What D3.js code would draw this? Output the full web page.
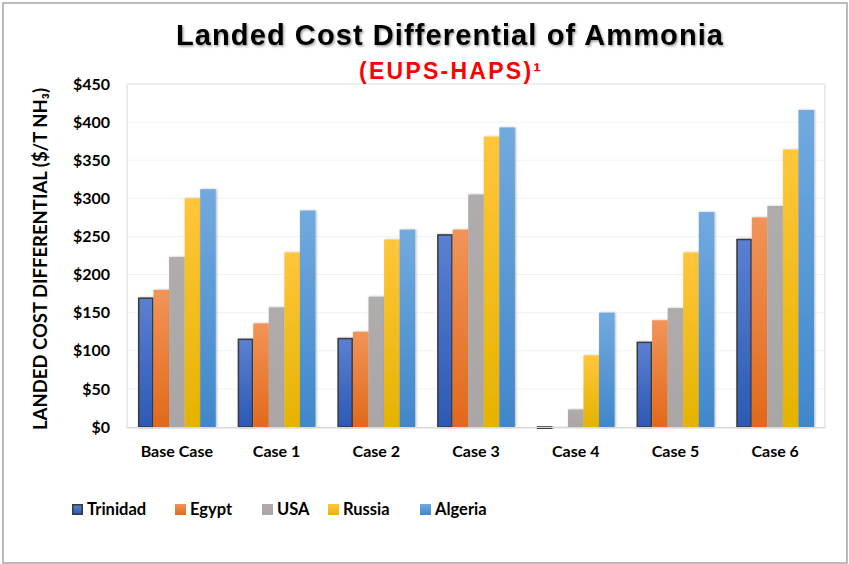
<!DOCTYPE html>
<html><head><meta charset="utf-8">
<script src="https://cdn.jsdelivr.net/npm/d3@7"></script>
<style>
html,body{margin:0;padding:0;background:#fff;}
svg{display:block;}
</style></head>
<body>
<svg id="c" width="849" height="564"></svg>
<script>
const categories = ["Base Case","Case 1","Case 2","Case 3","Case 4","Case 5","Case 6"];
const seriesNames = ["Trinidad","Egypt","USA","Russia","Algeria"];
const trinidad = [169, 115, 116, 252, -2, 111, 246];
const egypt    = [180, 136, 125, 259, -0.5, 140, 275];
const usa      = [223, 157, 171, 305, 23, 156, 290];
const russia   = [300, 229, 246, 381, 94, 229, 364];
const algeria  = [312, 284, 259, 393, 150, 282, 416];
const yTicks = [0,50,100,150,200,250,300,350,400,450];
const title = "Landed Cost Differential of Ammonia";
const subtitle = "(EUPS-HAPS)\u00B9";
const yTitle = "LANDED COST DIFFERENTIAL ($/T NH\u2083)";

(function(){
const seriesValues = [trinidad, egypt, usa, russia, algeria];
const colors = [
  {top:"#5b80d2", bot:"#2c59b5", stroke:"#3a3a3a"},
  {top:"#f29458", bot:"#e2691a", stroke:null},
  {top:"#b0acac", bot:"#aaa6a6", stroke:null},
  {top:"#ffc63c", bot:"#e5b300", stroke:null},
  {top:"#72aadf", bot:"#4087cb", stroke:null}
];

const svg = d3.select("#c");
const defs = svg.append("defs");
colors.forEach((c,i)=>{
  const g = defs.append("linearGradient").attr("id","g"+i).attr("x1",0).attr("y1",0).attr("x2",0).attr("y2",1);
  g.append("stop").attr("offset","0%").attr("stop-color",c.top);
  g.append("stop").attr("offset","100%").attr("stop-color",c.bot);
});
const sh = defs.append("filter").attr("id","shadow").attr("x","-20%").attr("y","-20%").attr("width","140%").attr("height","140%");
sh.append("feDropShadow").attr("dx",1.2).attr("dy",1.5).attr("stdDeviation",0.9).attr("flood-color","#000").attr("flood-opacity",0.4);
const bsh = defs.append("filter").attr("id","bshadow").attr("x","-20%").attr("y","-5%").attr("width","150%").attr("height","110%");
bsh.append("feDropShadow").attr("dx",1).attr("dy",0).attr("stdDeviation",0.8).attr("flood-color","#000").attr("flood-opacity",0.3);

// outer border
svg.append("rect").attr("x",3).attr("y",3).attr("width",844).attr("height",560)
  .attr("fill","none").attr("stroke","#a6a6a6").attr("stroke-width",1.5);

const pL=127, pR=825, pT=84, pB=427;
const x = d3.scaleBand().domain(categories).range([pL,pR]).paddingInner(0.22).paddingOuter(0.11);
const x1 = d3.scaleBand().domain(seriesNames).range([0,x.bandwidth()]).padding(0);
const y = d3.scaleLinear().domain([0,450]).range([pB,pT]);

// plot frame
svg.append("rect").attr("x",pL).attr("y",pT).attr("width",pR-pL).attr("height",pB-pT+1)
  .attr("fill","#fff").attr("stroke","#d9d9d9").attr("stroke-width",1);

// gridlines
svg.append("g").selectAll("line").data(yTicks.filter(d=>d>0)).join("line")
  .attr("x1",pL).attr("x2",pR).attr("y1",d=>y(d)).attr("y2",d=>y(d))
  .attr("stroke","#f3f3f3").attr("stroke-width",1);

// y axis labels
const yAxis = d3.axisLeft(y).tickValues(yTicks).tickFormat(d=>"$"+d).tickSize(0).tickPadding(0);
const ya = svg.append("g").attr("transform",`translate(110,0)`).call(yAxis);
ya.select(".domain").remove();
ya.selectAll("text").attr("font-family","Lato").attr("font-weight","bold").attr("font-size",16).attr("fill","#000");

// bars
seriesNames.forEach((s,si)=>{
  const vals = seriesValues[si];
  svg.append("g").selectAll("rect").data(categories.map((c,ci)=>({c,v:vals[ci]}))).join("rect")
    .attr("x",d=>x(d.c)+x1(s)+(colors[si].stroke?0.75:0))
    .attr("width",x1.bandwidth()-(colors[si].stroke?1.5:0))
    .attr("y",d=>Math.min(y(d.v),y(0)))
    .attr("height",d=>Math.max(Math.abs(y(d.v)-y(0)),0.8))
    .attr("fill",`url(#g${si})`)
    .attr("stroke",colors[si].stroke||"none")
    .attr("stroke-width",colors[si].stroke?1.5:0)
    .attr("filter","url(#bshadow)");
});

// x axis line
svg.append("line").attr("x1",pL).attr("x2",pR).attr("y1",y(0)+0.5).attr("y2",y(0)+0.5)
  .attr("stroke","#d9d9d9").attr("stroke-width",1);

// x labels
const xAxis = d3.axisBottom(x).tickSize(0).tickPadding(0);
const xa = svg.append("g").attr("transform",`translate(0,446)`).call(xAxis);
xa.select(".domain").remove();
xa.selectAll("text").attr("font-family","Lato").attr("font-weight","bold").attr("font-size",16).attr("fill","#000").attr("dy","0.71em");

// y title
svg.append("text").attr("transform","translate(47,259) rotate(-90)")
  .attr("text-anchor","middle").attr("font-family","Lato").attr("font-weight","bold")
  .attr("font-size",18).attr("fill","#000").attr("textLength",342).attr("lengthAdjust","spacingAndGlyphs")
  .text(yTitle);

// title
svg.append("text").attr("x",176).attr("y",44.5).attr("font-family","Liberation Sans, Arial")
  .attr("font-weight","bold").attr("font-size",29).attr("fill","#000")
  .attr("textLength",547).attr("lengthAdjust","spacing").attr("filter","url(#shadow)")
  .text(title);
svg.append("text").attr("x",359).attr("y",78.5).attr("font-family","Liberation Sans, Arial")
  .attr("font-weight","bold").attr("font-size",23).attr("fill","#ff0000")
  .attr("textLength",182).attr("lengthAdjust","spacing")
  .text(subtitle);

// legend
const legX = [72,175,262,328,420];
const lg = svg.append("g");
seriesNames.forEach((s,i)=>{
  lg.append("rect").attr("x",legX[i]+(colors[i].stroke?0.75:0)).attr("y",504+(colors[i].stroke?0.75:0))
    .attr("width",colors[i].stroke?9.5:11).attr("height",colors[i].stroke?9.5:11)
    .attr("fill",`url(#g${i})`).attr("stroke",colors[i].stroke||"none").attr("stroke-width",1.5);
  lg.append("text").attr("x",legX[i]+15).attr("y",515).attr("font-family","Lato").attr("font-weight","bold")
    .attr("font-size",16.5).attr("fill","#000").text(s);
});
})();
</script>
</body></html>
